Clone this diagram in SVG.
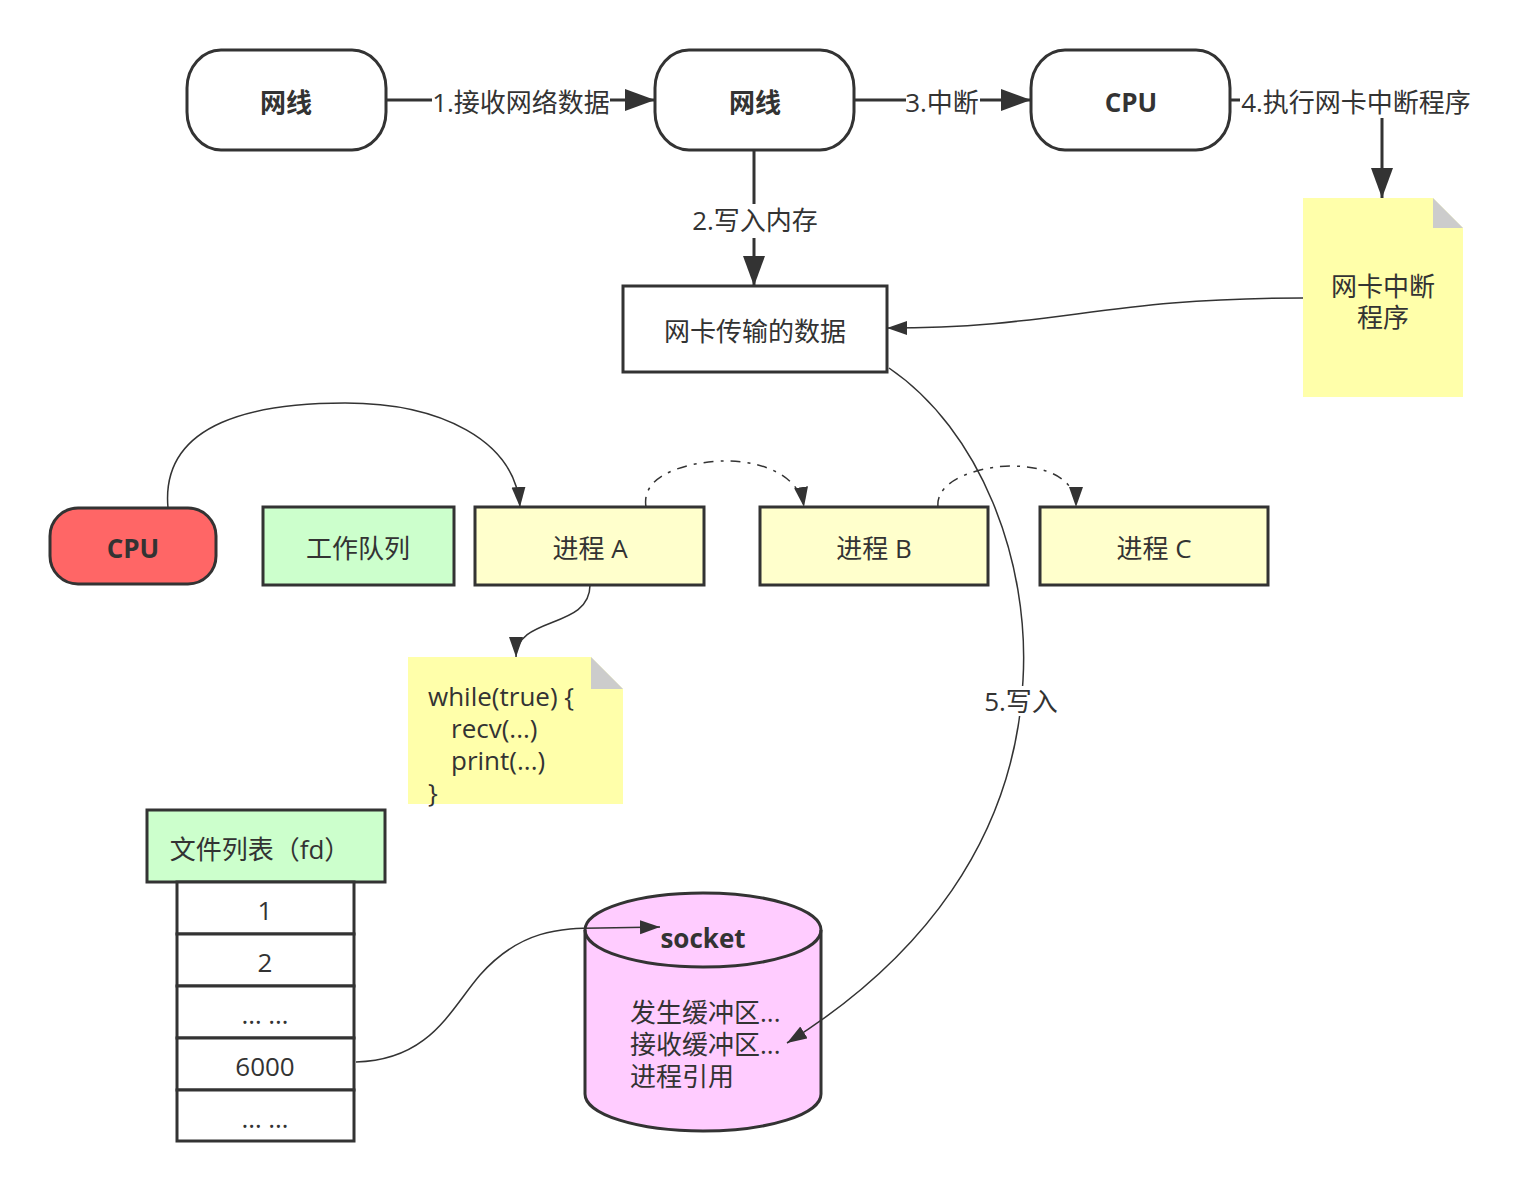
<svg xmlns="http://www.w3.org/2000/svg" width="1513" height="1192" viewBox="0 0 1513 1192">
<defs>
<style>
text{font-family:"Open Sans","Noto Sans CJK SC",sans-serif;font-size:26px;fill:#333;text-anchor:middle;dominant-baseline:central}
.b{font-weight:bold}
.l{text-anchor:start}
.shape{stroke:#333;stroke-width:3}
.thick{fill:none;stroke:#333;stroke-width:3}
.thin{fill:none;stroke:#333;stroke-width:1.5}
.dash{fill:none;stroke:#333;stroke-width:1.5;stroke-dasharray:10 7 3 7}
.bg{fill:#fff}
</style>
<marker id="ab" markerUnits="userSpaceOnUse" markerWidth="32" markerHeight="24" refX="30" refY="11" orient="auto" viewBox="0 0 32 24">
<path d="M0,0 L30,11 L0,22 Z" fill="#333"/>
</marker>
<marker id="as" markerUnits="userSpaceOnUse" markerWidth="22" markerHeight="16" refX="20" refY="7" orient="auto" viewBox="0 0 22 16">
<path d="M0,0 L20,7 L0,14 Z" fill="#333"/>
</marker>
</defs>
<rect width="1513" height="1192" fill="#fff"/>

<g id="n-wire1"><rect class="shape" x="187" y="50" width="199" height="100" rx="34" ry="38" fill="#fff"/><text class="b" x="286" y="102">网线</text></g>
<g id="n-wire2"><rect class="shape" x="655" y="50" width="199" height="100" rx="34" ry="38" fill="#fff"/><text class="b" x="755" y="102">网线</text></g>
<g id="n-cpu-top"><rect class="shape" x="1031" y="50" width="199" height="100" rx="34" ry="38" fill="#fff"/><text class="b" x="1131" y="102">CPU</text></g>
<g id="n-data"><rect class="shape" x="623" y="286" width="264" height="86" fill="#fff"/><text x="755" y="331">网卡传输的数据</text></g>
<g id="n-isr">
<path d="M1303,198 L1433,198 L1463,228 L1463,397 L1303,397 Z" fill="#ffffaa"/>
<path d="M1433,198 L1463,228 L1433,228 Z" fill="#ccc"/>
<text x="1383" y="286">网卡中断</text><text x="1383" y="317">程序</text>
</g>
<g id="n-cpu"><rect class="shape" x="50" y="508" width="166" height="76" rx="28" ry="28" fill="#ff6666"/><text class="b" x="133" y="548">CPU</text></g>
<g id="n-queue"><rect class="shape" x="263" y="507" width="191" height="78" fill="#ccffcc"/><text x="358" y="548">工作队列</text></g>
<g id="n-pa"><rect class="shape" x="475" y="507" width="229" height="78" fill="#ffffcc"/><text x="590" y="548">进程 A</text></g>
<g id="n-pb"><rect class="shape" x="760" y="507" width="228" height="78" fill="#ffffcc"/><text x="874" y="548">进程 B</text></g>
<g id="n-pc"><rect class="shape" x="1040" y="507" width="228" height="78" fill="#ffffcc"/><text x="1154" y="548">进程 C</text></g>
<g id="n-code">
<path d="M408,657 L591,657 L623,689 L623,804 L408,804 Z" fill="#ffffaa"/>
<path d="M591,657 L623,689 L591,689 Z" fill="#ccc"/>
<text class="l" x="428" y="696">while(true) {</text>
<text class="l" x="451" y="728">recv(...)</text>
<text class="l" x="451" y="760">print(...)</text>
<text class="l" x="428" y="792">}</text>
</g>
<g id="n-fdlist">
<rect class="shape" x="147" y="810" width="238" height="72" fill="#ccffcc"/><text x="260" y="849">文件列表（fd）</text>
<rect class="shape" x="177" y="882" width="177" height="52" fill="#fff"/><text x="265" y="910">1</text>
<rect class="shape" x="177" y="934" width="177" height="52" fill="#fff"/><text x="265" y="962">2</text>
<rect class="shape" x="177" y="986" width="177" height="52" fill="#fff"/><text x="265" y="1014">… …</text>
<rect class="shape" x="177" y="1038" width="177" height="52" fill="#fff"/><text x="265" y="1066">6000</text>
<rect class="shape" x="177" y="1090" width="177" height="51" fill="#fff"/><text x="265" y="1118">… …</text>
</g>
<g id="n-socket">
<path class="shape" d="M585,930 A118,37 0 0 1 821,930 L821,1094 A118,37 0 0 1 585,1094 Z" fill="#ffccff"/>
<path class="shape" d="M585,930 A118,37 0 0 0 821,930" fill="none"/>
<text class="b" x="703" y="938">socket</text>
<text class="l" x="630" y="1012">发生缓冲区...</text>
<text class="l" x="630" y="1044">接收缓冲区...</text>
<text class="l" x="630" y="1076">进程引用</text>
</g>

<g id="connectors">
<path class="thick" d="M386,100 L655,100" marker-end="url(#ab)"/>
<rect class="bg" x="432" y="86" width="178" height="32"/>
<text x="521" y="102">1.接收网络数据</text>
<path class="thick" d="M854,100 L1031,100" marker-end="url(#ab)"/>
<rect class="bg" x="906" y="86" width="74" height="32"/>
<text x="942" y="102">3.中断</text>
<path class="thick" d="M1230,100 L1382,100 L1382,198" marker-end="url(#ab)"/>
<rect class="bg" x="1240" y="86" width="232" height="32"/>
<text x="1356" y="102">4.执行网卡中断程序</text>
<path class="thick" d="M754,150 L754,286" marker-end="url(#ab)"/>
<rect class="bg" x="690" y="204" width="130" height="34"/>
<text x="755" y="220">2.写入内存</text>
<path class="thin" d="M1303,298 C1100,298 1060,328 887,328" marker-end="url(#as)"/>
<path class="thin" d="M889,368 C980,430 1030,560 1023,680 C1015,840 920,960 787,1043" marker-end="url(#as)"/>
<rect class="bg" x="984" y="686" width="74" height="30"/>
<text x="1021" y="701">5.写入</text>
<path class="thin" d="M168,508 C160,420 260,403 345,403 C440,403 515,440 520,507" marker-end="url(#as)"/>
<path class="dash" d="M646,507 C640,470 700,461 725,461 C770,461 800,480 804,507" marker-end="url(#as)"/>
<path class="dash" d="M938,507 C935,478 985,466 1010,466 C1050,466 1076,480 1076,507" marker-end="url(#as)"/>
<path class="thin" d="M590,585 C590,630 516,615 516,657" marker-end="url(#as)"/>
<path class="thin" d="M356,1062 C430,1060 450,1010 480,975 C520,930 560,928 600,928 L660,927" marker-end="url(#as)"/>
</g>
</svg>
